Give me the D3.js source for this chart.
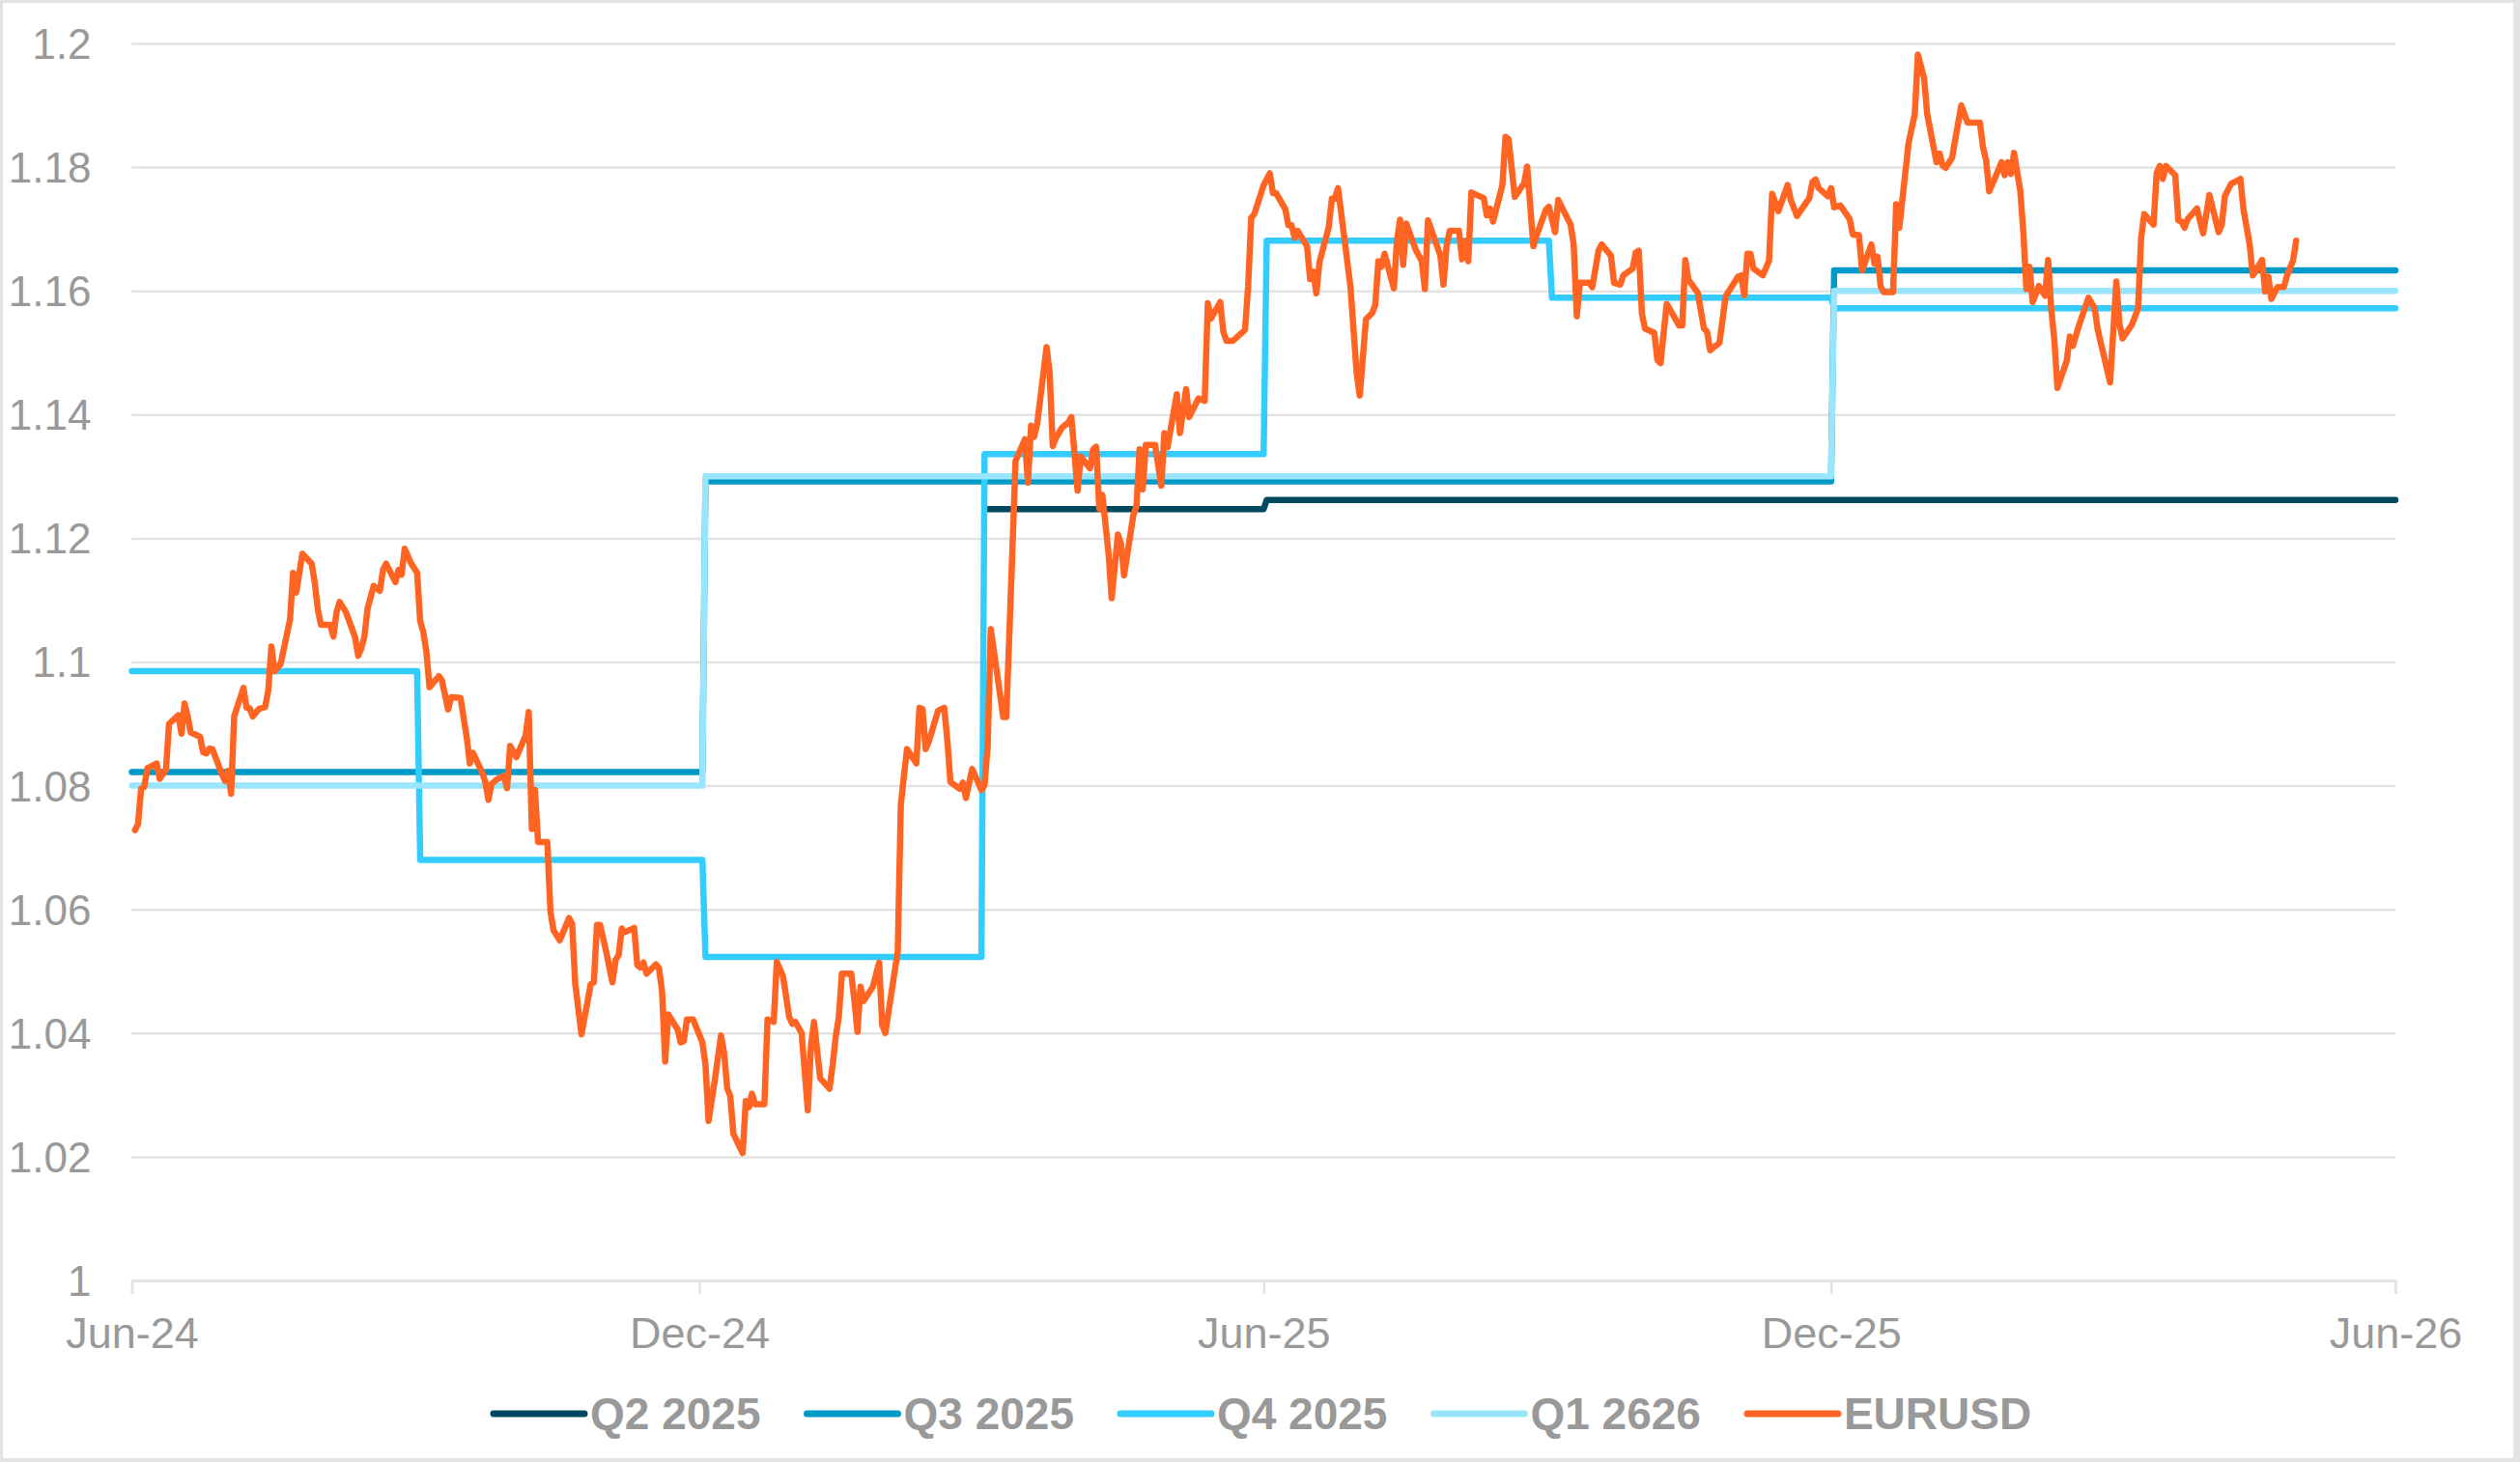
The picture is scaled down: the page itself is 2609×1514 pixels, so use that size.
<!DOCTYPE html>
<html>
  <head>
    <meta charset="utf-8" />
    <title>EURUSD vs quarterly forecasts</title>
    <script src="https://d3js.org/d3.v7.min.js"></script>
    <style>
      body { margin: 0; background: #fff; }
      svg { display: block; }
      text { font-family: "Liberation Sans", Arial, sans-serif; fill: #999; }
    </style>
  </head>
  <body>
    <svg width="2609" height="1514"></svg>
    <script>
      // day offsets are counted from 1 Jun 2024
      const startDate = new Date(2024, 5, 1);
      const endDay = 730;

      const yTicks = [1, 1.02, 1.04, 1.06, 1.08, 1.1, 1.12, 1.14, 1.16, 1.18, 1.2];
      const xTickDays = [0, 183, 365, 548, 730];
      const xTickLabels = ["Jun-24", "Dec-24", "Jun-25", "Dec-25", "Jun-26"];

      // forecast series: day the value takes effect, and the value
      const q2Days = [276, 366];
      const q2Vals = [1.1247, 1.1262];
      const q3Days = [0, 185, 549];
      const q3Vals = [1.0822, 1.1292, 1.1633];
      const q4Days = [0, 93, 185, 275, 366, 458, 549];
      const q4Vals = [1.0985, 1.068, 1.0523, 1.1336, 1.1681, 1.1589, 1.1572];
      const q1Days = [0, 185, 549];
      const q1Vals = [1.08, 1.13, 1.16];

      // EURUSD spot, [day, rate]
      const eurusd = [
        [1,1.0728],[2,1.0738],[3,1.0795],[4,1.0798],[5,1.0828],[8,1.0836],[9,1.0811],[11,1.0826],[12,1.0900],[15,1.0914],
        [16,1.0884],[17,1.0933],[18,1.0912],[19,1.0886],[22,1.0879],[23,1.0854],[24,1.0852],[25,1.0860],[26,1.0859],[29,1.0819],
        [30,1.0808],[31,1.0824],[32,1.0787],[33,1.0912],[36,1.0958],[37,1.0926],[38,1.0925],[39,1.0912],[41,1.0924],[43,1.0927],
        [44,1.0954],[45,1.1025],[46,1.0985],[48,1.0997],[51,1.1068],[52,1.1144],[53,1.1112],[55,1.1175],[58,1.1159],[59,1.1128],
        [60,1.1084],[61,1.1060],[64,1.1060],[65,1.1041],[66,1.1080],[67,1.1097],[69,1.1081],[72,1.1040],[73,1.1010],[74,1.1022],
        [75,1.1041],[76,1.1086],[78,1.1123],[80,1.1115],[81,1.1149],[82,1.1159],[85,1.1129],[86,1.1149],[87,1.1141],[88,1.1183],
        [90,1.1160],[92,1.1144],[93,1.1066],[94,1.1048],[95,1.1016],[96,1.0959],[99,1.0977],[100,1.0970],[102,1.0923],[103,1.0943],
        [106,1.0942],[108,1.0878],[109,1.0836],[110,1.0853],[113,1.0821],[114,1.0806],[115,1.0777],[116,1.0803],[118,1.0811],[120,1.0816],
        [121,1.0796],[122,1.0864],[124,1.0846],[127,1.0881],[128,1.0919],[129,1.0730],[130,1.0793],[131,1.0709],[134,1.0709],[135,1.0596],
        [136,1.0566],[138,1.0550],[141,1.0586],[142,1.0576],[143,1.0479],[145,1.0398],[148,1.0479],[149,1.0482],[150,1.0575],[151,1.0575],
        [153,1.0531],[155,1.0482],[156,1.0518],[157,1.0526],[158,1.0569],[159,1.0563],[162,1.0570],[163,1.0510],[164,1.0506],[165,1.0514],
        [166,1.0496],[169,1.0511],[170,1.0505],[171,1.0467],[172,1.0354],[173,1.0430],[176,1.0406],[177,1.0385],[178,1.0387],[179,1.0422],
        [181,1.0422],[184,1.0385],[185,1.0349],[186,1.0258],[188,1.0324],[190,1.0396],[191,1.0368],[192,1.0311],[193,1.0298],[194,1.0237],
        [197,1.0206],[198,1.0290],[199,1.0280],[200,1.0302],[201,1.0285],[204,1.0285],[205,1.0422],[207,1.0418],[208,1.0515],[210,1.0492],
        [212,1.0426],[213,1.0415],[214,1.0418],[216,1.0400],[218,1.0275],[219,1.0379],[220,1.0418],[222,1.0327],[225,1.0310],[226,1.0348],
        [227,1.0394],[228,1.0426],[229,1.0496],[232,1.0496],[233,1.0454],[234,1.0402],[235,1.0475],[236,1.0452],[239,1.0475],[241,1.0514],
        [242,1.0413],[243,1.0400],[247,1.0532],[248,1.0769],[249,1.0816],[250,1.0859],[253,1.0836],[254,1.0926],[255,1.0924],[256,1.0859],
        [257,1.0871],[260,1.0921],[262,1.0926],[263,1.0873],[264,1.0806],[267,1.0795],[268,1.0805],[269,1.0780],[271,1.0827],[274,1.0793],
        [275,1.0801],[276,1.0863],[277,1.1053],[279,1.0983],[281,1.0911],[282,1.0911],[283,1.1045],[285,1.1325],[288,1.1360],[289,1.1290],
        [290,1.1382],[291,1.1364],[292,1.1386],[295,1.1509],[296,1.1467],[297,1.1349],[298,1.1362],[300,1.1379],[302,1.1387],[303,1.1396],
        [305,1.1277],[306,1.1332],[309,1.1313],[310,1.1344],[311,1.1348],[312,1.1248],[313,1.1270],[315,1.1175],[316,1.1103],[318,1.1206],
        [319,1.1191],[320,1.1140],[323,1.1238],[324,1.1252],[325,1.1344],[326,1.1279],[327,1.1351],[330,1.1351],[332,1.1285],[333,1.1370],
        [334,1.1347],[337,1.1433],[338,1.1370],[340,1.1441],[341,1.1396],[344,1.1426],[346,1.1422],[347,1.1580],[348,1.1555],[351,1.1582],
        [352,1.1534],[353,1.1519],[355,1.1519],[359,1.1537],[360,1.1607],[361,1.1718],[362,1.1724],[365,1.1771],[367,1.1790],[368,1.1758],
        [369,1.1758],[372,1.1732],[373,1.1706],[374,1.1706],[375,1.1686],[376,1.1697],[379,1.1672],[380,1.1619],[381,1.1631],[382,1.1596],
        [383,1.1646],[386,1.1703],[387,1.1749],[388,1.1749],[389,1.1766],[393,1.1607],[395,1.1467],[396,1.1431],[398,1.1554],[400,1.1564],
        [401,1.1577],[402,1.1648],[403,1.1639],[404,1.1660],[407,1.1604],[408,1.1681],[409,1.1715],[410,1.1642],[411,1.1709],[414,1.1667],
        [416,1.1648],[417,1.1603],[418,1.1714],[422,1.1657],[423,1.1610],[424,1.1672],[425,1.1697],[428,1.1697],[429,1.1651],[430,1.1680],
        [431,1.1648],[432,1.1759],[436,1.1750],[437,1.1722],[438,1.1733],[439,1.1712],[442,1.1771],[443,1.1849],[444,1.1845],[446,1.1752],
        [449,1.1774],[450,1.1801],[452,1.1672],[453,1.1689],[456,1.1731],[457,1.1736],[459,1.1695],[460,1.1747],[464,1.1707],[465,1.1675],
        [466,1.1559],[467,1.1613],[470,1.1613],[471,1.1606],[473,1.1665],[474,1.1675],[477,1.1657],[478,1.1613],[480,1.1610],[481,1.1625],
        [484,1.1636],[485,1.1662],[486,1.1665],[487,1.1563],[488,1.1539],[491,1.1532],[492,1.1488],[493,1.1483],[495,1.1579],[499,1.1544],
        [500,1.1544],[501,1.1650],[502,1.1618],[505,1.1597],[507,1.1539],[508,1.1534],[509,1.1504],[512,1.1516],[514,1.1591],[515,1.1599],
        [518,1.1623],[519,1.1625],[520,1.1593],[521,1.1660],[522,1.1660],[523,1.1636],[526,1.1625],[528,1.1649],[529,1.1757],[531,1.1729],
        [533,1.1757],[534,1.1771],[535,1.1747],[537,1.1721],[541,1.1750],[542,1.1776],[543,1.1780],[544,1.1766],[547,1.1753],[548,1.1766],
        [549,1.1735],[551,1.1738],[554,1.1716],[555,1.1691],[557,1.1690],[558,1.1633],[561,1.1675],[562,1.1644],[563,1.1655],[564,1.1607],
        [565,1.1598],[568,1.1598],[569,1.1740],[570,1.1702],[573,1.1839],[575,1.1886],[576,1.1982],[578,1.1944],[579,1.1886],[582,1.1808],
        [583,1.1822],[584,1.1802],[585,1.1799],[587,1.1815],[590,1.1900],[592,1.1872],[596,1.1872],[597,1.1832],[598,1.1811],[599,1.1761],
        [601,1.1784],[603,1.1808],[604,1.1787],[605,1.1808],[606,1.1789],[607,1.1823],[609,1.1763],[610,1.1696],[611,1.1603],[612,1.1639],
        [613,1.1582],[615,1.1608],[617,1.1592],[618,1.1650],[619,1.1571],[620,1.1521],[621,1.1443],[624,1.1487],[625,1.1526],[626,1.1511],
        [628,1.1545],[631,1.1589],[633,1.1572],[634,1.1537],[638,1.1452],[640,1.1615],[641,1.1547],[642,1.1523],[645,1.1545],[647,1.1571],
        [648,1.1686],[649,1.1724],[652,1.1707],[653,1.1790],[654,1.1802],[655,1.1781],[656,1.1802],[659,1.1787],[660,1.1714],[661,1.1712],
        [662,1.1702],[663,1.1716],[666,1.1733],[668,1.1693],[670,1.1755],[673,1.1695],[674,1.1707],[675,1.1753],[677,1.1773],[680,1.1781],
        [681,1.1732],[683,1.1675],[684,1.1625],[685,1.1632],[687,1.1650],[688,1.1599],[689,1.1623],[690,1.1587],[692,1.1606],[694,1.1606],
        [695,1.1624],[697,1.1649],[698,1.1681]
      ];

      const series = [
        { name: "Q2 2025", color: "#004a5f", days: q2Days, vals: q2Vals },
        { name: "Q3 2025", color: "#009ac8", days: q3Days, vals: q3Vals },
        { name: "Q4 2025", color: "#33ccff", days: q4Days, vals: q4Vals },
        { name: "Q1 2626", color: "#99e5fb", days: q1Days, vals: q1Vals }
      ];
      const eurColor = "#ff6422";

      const toDate = d => d3.timeDay.offset(startDate, d);

      // step line: old value held until the day before the change
      function stepPoints(days, vals) {
        const pts = [];
        days.forEach((d, i) => {
          if (i > 0) pts.push([d - 1, vals[i - 1]]);
          pts.push([d, vals[i]]);
        });
        pts.push([endDay, vals[vals.length - 1]]);
        return pts;
      }

      const svg = d3.select("svg");
      const width = +svg.attr("width");
      const height = +svg.attr("height");

      // outer frame
      svg.append("rect").attr("width", width).attr("height", height).attr("fill", "#e3e3e3");
      svg.append("rect").attr("x", 3).attr("y", 3)
        .attr("width", width - 10).attr("height", height - 7).attr("fill", "#fff");

      const margin = { top: 45, left: 136.5, right: 129, bottom: 188 };
      const x = d3.scaleTime()
        .domain([startDate, toDate(endDay)])
        .range([margin.left, width - margin.right]);
      const y = d3.scaleLinear()
        .domain([1, 1.2])
        .range([height - margin.bottom, margin.top]);

      // y axis + gridlines
      const yAxis = d3.axisLeft(y)
        .tickValues(yTicks)
        .tickSize(-(x.range()[1] - x.range()[0]))
        .tickPadding(42)
        .tickFormat(d => String(+d.toFixed(2)));
      const yg = svg.append("g")
        .attr("transform", `translate(${margin.left},0)`)
        .call(yAxis);
      yg.select(".domain").remove();
      yg.selectAll(".tick line").attr("stroke", "#e3e3e3").attr("stroke-width", 2.5);
      yg.selectAll(".tick text")
        .attr("font-size", 44).attr("fill", "#999").attr("dy", "0.35em");

      // x axis
      const xAxis = d3.axisBottom(x)
        .tickValues(xTickDays.map(toDate))
        .tickSize(14)
        .tickPadding(24)
        .tickFormat((d, i) => xTickLabels[i]);
      const xg = svg.append("g")
        .attr("transform", `translate(0,${y(1)})`)
        .call(xAxis);
      xg.select(".domain").attr("stroke", "#e3e3e3").attr("stroke-width", 2.5);
      xg.selectAll(".tick line").attr("stroke", "#e3e3e3").attr("stroke-width", 2.5);
      xg.selectAll(".tick text")
        .attr("font-size", 45).attr("fill", "#999").attr("dy", "0.71em");

      const line = d3.line()
        .x(p => x(toDate(p[0])))
        .y(p => y(p[1]));

      const plot = svg.append("g")
        .attr("fill", "none")
        .attr("stroke-width", 6.5)
        .attr("stroke-linejoin", "round")
        .attr("stroke-linecap", "round");

      series.forEach(s => {
        plot.append("path")
          .attr("d", line(stepPoints(s.days, s.vals)))
          .attr("stroke", s.color);
      });

      plot.append("path")
        .attr("d", line(eurusd))
        .attr("stroke", eurColor);

      // legend
      const legendItems = series.map(s => ({ name: s.name, color: s.color }))
        .concat([{ name: "EURUSD", color: eurColor }]);
      const legend = svg.append("g").attr("transform", "translate(0,1464)");
      let lx = 511;
      legendItems.forEach(it => {
        legend.append("line")
          .attr("x1", lx).attr("x2", lx + 94)
          .attr("stroke", it.color).attr("stroke-width", 7)
          .attr("stroke-linecap", "round");
        const t = legend.append("text")
          .attr("x", lx + 100).attr("y", 16)
          .attr("font-size", 46).attr("font-weight", "bold").attr("fill", "#999")
          .text(it.name);
        lx += 100 + t.node().getComputedTextLength() + 48;
      });
    </script>
  </body>
</html>
